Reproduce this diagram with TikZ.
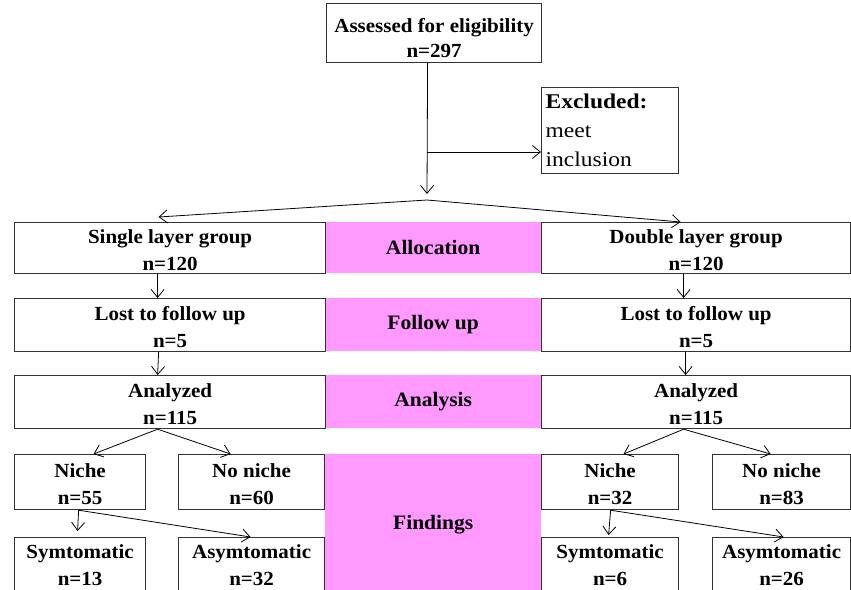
\documentclass[tikz,border=0pt]{standalone}
\usepackage{fontspec}
\setmainfont[FakeStretch=1.05]{Liberation Serif}
\newfontfamily\widefont[FakeStretch=1.12]{Liberation Serif}
\usetikzlibrary{arrows.meta}
\definecolor{pinkc}{RGB}{255,153,255}
\newcommand{\upstrut}{\rule{0pt}{18pt}}
\begin{document}
\begin{tikzpicture}[x=1pt,y=-1pt,
  box/.style={draw=black!80, line width=1.2pt, fill=white, inner sep=0pt, align=center, anchor=north west,
    font=\bfseries\fontsize{20}{27}\selectfont},
  lbl/.style={fill=pinkc, inner sep=0pt, align=center, anchor=north west,
    font=\bfseries\fontsize{20.5}{24}\selectfont},
  arr/.style={-{Straight Barb[length=8pt,width=13pt]}, line width=0.8pt}]
\useasboundingbox (0,0) rectangle (851,589);
% pink stage labels
\node[lbl, minimum width=216pt, minimum height=51pt] (alloc) at (325,222) {Allocation};
\node[lbl, minimum width=216pt, minimum height=53pt] (follow) at (325,298) {Follow up};
\node[lbl, minimum width=216pt, minimum height=53pt] (analysis) at (325,375) {Analysis};
\node[lbl, minimum width=216pt, minimum height=140pt] (findings) at (325,454) {Findings};
% top
\node[box, minimum width=215pt, minimum height=59pt, font=\bfseries\fontsize{20}{25}\selectfont] (top) at (326,3) {\rule{0pt}{24pt}Assessed for eligibility\\n=297};
\node[box, minimum width=137pt, minimum height=86pt, align=left, text width=129pt, inner xsep=4pt,
  font=\widefont\fontsize{21}{29}\selectfont] (excl) at (541,87) {\textbf{Excluded:}\\meet\\inclusion};
% groups
\node[box, minimum width=311pt, minimum height=51pt] (single) at (14,222) {\upstrut Single layer group\\n=120};
\node[box, minimum width=309pt, minimum height=51pt] (double) at (541,222) {\upstrut Double layer group\\n=120};
\node[box, minimum width=311pt, minimum height=53pt] (lostL) at (14,298) {\upstrut Lost to follow up\\n=5};
\node[box, minimum width=309pt, minimum height=53pt] (lostR) at (541,298) {\upstrut Lost to follow up\\n=5};
\node[box, minimum width=311pt, minimum height=53pt] (anL) at (14,375) {\upstrut Analyzed\\n=115};
\node[box, minimum width=309pt, minimum height=53pt] (anR) at (541,375) {\upstrut Analyzed\\n=115};
% findings
\node[box, minimum width=131pt, minimum height=55pt] (nicheL) at (14,454) {\upstrut Niche\\n=55};
\node[box, minimum width=146pt, minimum height=55pt] (nonL) at (178,454) {\upstrut No niche\\n=60};
\node[box, minimum width=131pt, minimum height=55pt] (symL) at (14,537) {Symtomatic\\n=13};
\node[box, minimum width=146pt, minimum height=55pt] (asymL) at (178,537) {Asymtomatic\\n=32};
\node[box, minimum width=137pt, minimum height=55pt] (nicheR) at (541,454) {\upstrut Niche\\n=32};
\node[box, minimum width=138pt, minimum height=55pt] (nonR) at (712,454) {\upstrut No niche\\n=83};
\node[box, minimum width=137pt, minimum height=55pt] (symR) at (541,537) {Symtomatic\\n=6};
\node[box, minimum width=138pt, minimum height=55pt] (asymR) at (712,537) {Asymtomatic\\n=26};
% connectors
\coordinate (apex) at (427,200);
\coordinate (tipA) at (427,194);
\coordinate (br) at (427,152);
\draw[arr] ([xshift=-6.5pt]top.south) -- (tipA);
\draw[arr] (br) -- (br -| excl.west);
\draw[arr] (apex) -- ([xshift=-11.5pt,yshift=5pt]single.north);
\draw[arr] (apex) -- ([xshift=-15.5pt]double.north);
\draw[arr] ([xshift=-12.5pt]single.south) -- ([xshift=-12.5pt]lostL.north);
\draw[arr] ([xshift=-11.5pt]lostL.south) -- ([xshift=-12.5pt]anL.north);
\draw[arr] ([xshift=-12.5pt]double.south) -- ([xshift=-12.5pt]lostR.north);
\draw[arr] ([xshift=-10.5pt]lostR.south) -- ([xshift=-10.5pt]anR.north);
\draw[arr] ([xshift=-12.5pt]anL.south) -- ([xshift=13.5pt]nicheL.north);
\draw[arr] ([xshift=-12.5pt]anL.south) -- ([xshift=-21pt]nonL.north);
\draw[arr] ([xshift=-1.5pt]nicheL.south) -- ([xshift=-2.5pt,yshift=6pt]symL.north);
\draw[arr] ([xshift=-1.5pt]nicheL.south) -- ([xshift=-1pt]asymL.north);
\draw[arr] ([xshift=-12.5pt]anR.south) -- ([xshift=13.5pt]nicheR.north);
\draw[arr] ([xshift=-12.5pt]anR.south) -- ([xshift=-11pt]nonR.north);
\draw[arr] ([xshift=0.5pt]nicheR.south) -- ([xshift=-1.5pt,yshift=2pt]symR.north);
\draw[arr] ([xshift=0.5pt]nicheR.south) -- ([xshift=2pt]asymR.north);
\end{tikzpicture}
\end{document}
